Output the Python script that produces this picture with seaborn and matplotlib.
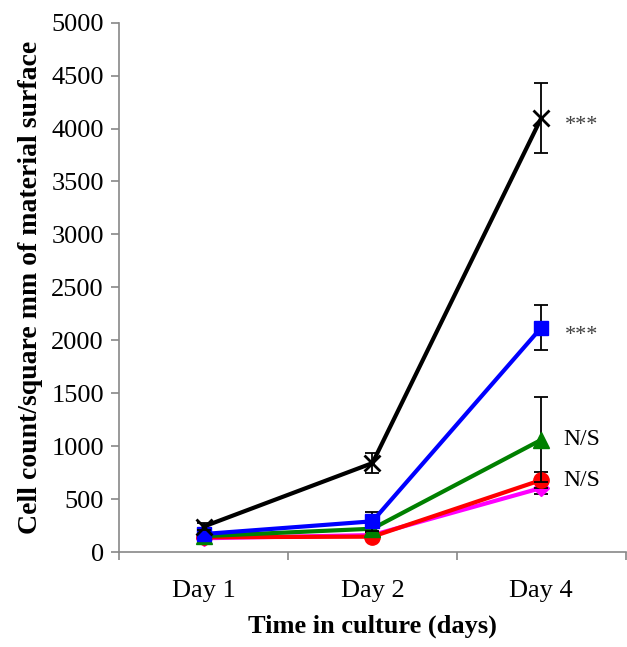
import matplotlib
matplotlib.use("Agg")
import matplotlib.pyplot as plt
import seaborn as sns
import pandas as pd
import numpy as np

# Cell counts per square mm over time, per material
days = ["Day 1", "Day 2", "Day 4"]
black_mean = [240, 840, 4100]
black_err = [30, 95, 330]
blue_mean = [170, 290, 2120]
blue_err = [25, 90, 210]
green_mean = [150, 220, 1060]
green_err = [20, 30, 400]
magenta_mean = [130, 160, 605]
magenta_err = [15, 20, 60]
red_mean = [140, 145, 680]
red_err = [15, 20, 75]

series = [
    # name, means, errors, colour, marker, marker size, significance note
    ("magenta", magenta_mean, magenta_err, "#ff00ff", "D", 8, None),
    ("red", red_mean, red_err, "#ff0000", "o", 11, "N/S"),
    ("green", green_mean, green_err, "#008000", "^", 11, "N/S"),
    ("blue", blue_mean, blue_err, "#0000ff", "s", 10, "***"),
    ("black", black_mean, black_err, "#000000", "x", 11, "***"),
]

sns.set_style("white")
plt.rcParams["font.family"] = ["Liberation Serif", "DejaVu Serif"]
plt.rcParams["text.color"] = "black"
plt.rcParams["axes.labelcolor"] = "black"
plt.rcParams["xtick.labelcolor"] = "black"
plt.rcParams["ytick.labelcolor"] = "black"

fig = plt.figure(figsize=(6.27, 6.47), dpi=100)
ax = fig.add_axes([0.19, 0.1468, 0.808, 0.8182])

xpos = np.arange(len(days))
for i, (name, mean, err, col, mk, ms, note) in enumerate(series):
    df = pd.DataFrame({"x": xpos, "y": mean})
    ax.errorbar(df["x"], df["y"], yerr=err, fmt="none", ecolor="black",
                elinewidth=1.3, capsize=5, capthick=1.3, zorder=2 + i * 2)
    sns.lineplot(data=df, x="x", y="y", ax=ax, color=col, linewidth=3,
                 marker=mk, markersize=ms, markeredgecolor=col,
                 markeredgewidth=2 if mk == "x" else 1,
                 zorder=3 + i * 2, legend=False)
    if note == "N/S":
        ax.text(xpos[-1] + 0.13, mean[-1], note, ha="left", va="center",
                fontsize=17, color="black", zorder=20)
    elif note:
        # asterisks sit high in the font, so nudge them down to the point
        ax.annotate(note, (xpos[-1], mean[-1]), xytext=(17, -5.5),
                    textcoords="offset points", ha="left", va="center",
                    fontsize=16, color="#404040", zorder=20)

ax.set_xlim(-0.5, 2.5)
ax.set_ylim(0, 5000)
ax.set_yticks(np.arange(0, 5001, 500))
ax.set_xticks(xpos)
ax.set_xticklabels(days)
ax.set_xticks(np.arange(-0.5, 2.6, 1.0), minor=True)
ax.tick_params(axis="x", which="major", length=0, pad=20, labelsize=19)
ax.tick_params(axis="x", which="minor", length=6, width=1.2, color="#888888",
               direction="out", bottom=True)
ax.tick_params(axis="y", which="major", length=6, width=1.2, color="#888888",
               direction="out", left=True, labelsize=19, pad=5)

for side in ["top", "right"]:
    ax.spines[side].set_visible(False)
for side in ["left", "bottom"]:
    ax.spines[side].set_color("#888888")
    ax.spines[side].set_linewidth(1.2)

ax.set_xlabel("Time in culture (days)", fontsize=19, fontweight="bold", labelpad=9)
ax.set_ylabel("Cell count/square mm of material surface", fontsize=20,
              fontweight="bold", labelpad=6)

fig.savefig("out.png", dpi=100)
